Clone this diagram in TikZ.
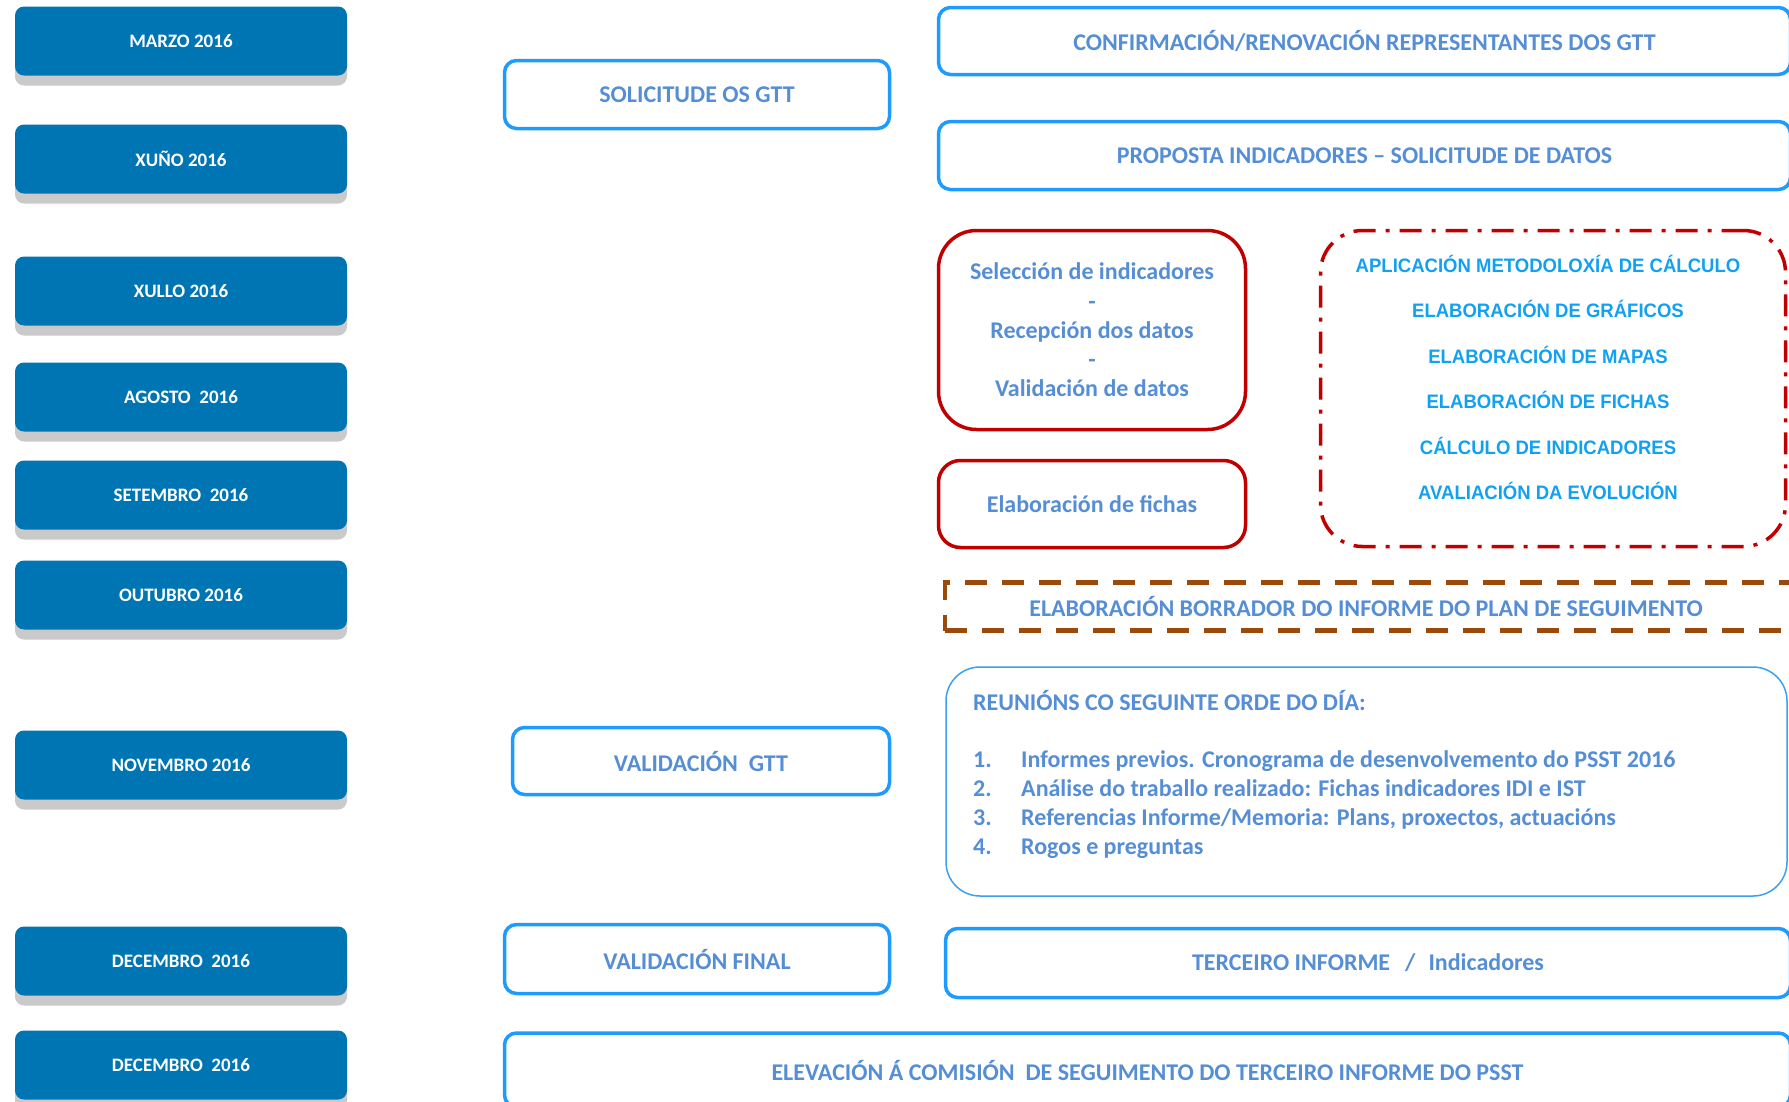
\documentclass[tikz,border=0pt]{standalone}
\usepackage{fontspec}
\setmainfont{Carlito}
\newfontfamily\narrowsans[FakeStretch=0.95]{Liberation Sans}
\usepackage{xcolor}
\usepackage{tikz}
\usetikzlibrary{shadows}
\definecolor{dateblue}{HTML}{0075B4}
\definecolor{frameblue}{HTML}{1E9BFF}
\definecolor{softblue}{HTML}{558ED5}
\definecolor{skyblue}{HTML}{12A0F0}
\definecolor{darkred}{HTML}{C00000}
\definecolor{rust}{HTML}{9C4A0A}
\definecolor{paleline}{HTML}{3BA0F0}

\begin{document}
\begin{tikzpicture}[
  x=1pt,y=-1pt,
  month/.style={fill=dateblue,rounded corners=9pt,minimum width=332pt,minimum height=69pt,text=white,font=\fontsize{19}{22}\selectfont\bfseries,drop shadow={shadow xshift=0pt,shadow yshift=-10pt,fill=black!35,opacity=.6}},
  stage/.style={draw=frameblue,line width=3.5pt,rounded corners=12pt,text=softblue,font=\fontsize{24}{29}\selectfont\bfseries},
  redbox/.style={draw=darkred,line width=3.5pt,text=softblue,align=center,font=\fontsize{24}{29.3}\selectfont\bfseries},
  calcbox/.style={draw=darkred,line width=3.5pt,rounded corners=42pt,dash pattern=on 22pt off 10pt on 4pt off 10pt},
  draftbox/.style={draw=rust,line width=4.5pt,dash pattern=on 22pt off 15pt,text=softblue,font=\fontsize{24}{28}\selectfont\bfseries},
  meetbox/.style={draw=paleline,line width=1.5pt,rounded corners=34pt},
  meettext/.style={inner sep=0pt,anchor=west,text=softblue,font=\fontsize{24}{28.9}\selectfont\bfseries}
]
\useasboundingbox (0,0) rectangle (1789,1101);
\node[month] (marzo) at (181,41) {MARZO 2016};
\node[month] (xuno) at (181,159) {XUÑO 2016};
\node[month] (xullo) at (181,291) {XULLO 2016};
\node[month] (agosto) at (181,397) {AGOSTO\ \ 2016};
\node[month] (setembro) at (181,495) {SETEMBRO\ \ 2016};
\node[month] (outubro) at (181,595) {OUTUBRO 2016};
\node[month] (novembro) at (181,765) {NOVEMBRO 2016};
\node[month] (decembro) at (181,961) {DECEMBRO\ \ 2016};
\node[month] (decembrob) at (181,1065) {DECEMBRO\ \ 2016};

\node[stage,minimum width=385pt,minimum height=68pt] (solicitude) at (697,94.5) {SOLICITUDE OS GTT};
\node[stage,minimum width=377pt,minimum height=67pt] (valgtt) at (701,761) {VALIDACIÓN\ \ GTT};
\node[stage,minimum width=385pt,minimum height=69pt] (valfinal) at (697,959) {VALIDACIÓN FINAL};

\node[stage,minimum width=852pt,minimum height=67pt] (confirm) at (1364.5,41) {CONFIRMACIÓN/RENOVACIÓN REPRESENTANTES DOS GTT};
\node[stage,minimum width=852pt,minimum height=68pt] (proposta) at (1364.5,155.5) {PROPOSTA INDICADORES – SOLICITUDE DE DATOS};
\node[redbox,rounded corners=38pt,minimum width=307pt,minimum height=199pt] (seleccion) at (1092,330) {Selección de indicadores\\-\\Recepción dos datos\\-\\Validación de datos};
\node[redbox,rounded corners=22pt,minimum width=307pt,minimum height=87pt] (fichas) at (1092,504) {Elaboración de fichas};
\node[calcbox,minimum width=465pt,minimum height=316pt] (calculo) at (1553,388.5) {};
\node[align=center,text=skyblue,font=\narrowsans\bfseries\fontsize{19.5}{45.4}\selectfont] (tarefas) at (1548,377.5) {APLICACIÓN METODOLOXÍA DE CÁLCULO\\ELABORACIÓN DE GRÁFICOS\\ELABORACIÓN DE MAPAS\\ELABORACIÓN DE FICHAS\\CÁLCULO DE INDICADORES\\AVALIACIÓN DA EVOLUCIÓN};
\node[draftbox,minimum width=848pt,minimum height=48pt] (borrador) at (1369,606.5) {\hspace*{-6pt}ELABORACIÓN BORRADOR DO INFORME DO PLAN DE SEGUIMENTO};
\node[meetbox,minimum width=841pt,minimum height=229pt] (reunions) at (1366.5,781.5) {};
\node[meettext] (orde) at (973,700) {REUNIÓNS CO SEGUINTE ORDE DO DÍA:};
\node[meettext] (puntos) at (973,805) {\begin{tabular}{@{}p{48pt}@{}l@{}}
1. & Informes previos. Cronograma de desenvolvemento do PSST 2016\\
2. & Análise do traballo realizado: Fichas indicadores IDI e IST\\
3. & Referencias Informe/Memoria: Plans, proxectos, actuacións\\
4. & Rogos e preguntas
\end{tabular}};
\node[stage,minimum width=845pt,minimum height=69pt] (terceiro) at (1368,963) {TERCEIRO INFORME\hspace{15pt}/\hspace{13pt}Indicadores};
\node[stage,minimum width=1286pt,minimum height=74pt] (elevacion) at (1147.5,1070) {ELEVACIÓN Á COMISIÓN\ \ DE SEGUIMENTO DO TERCEIRO INFORME DO PSST};
\end{tikzpicture}
\end{document}
